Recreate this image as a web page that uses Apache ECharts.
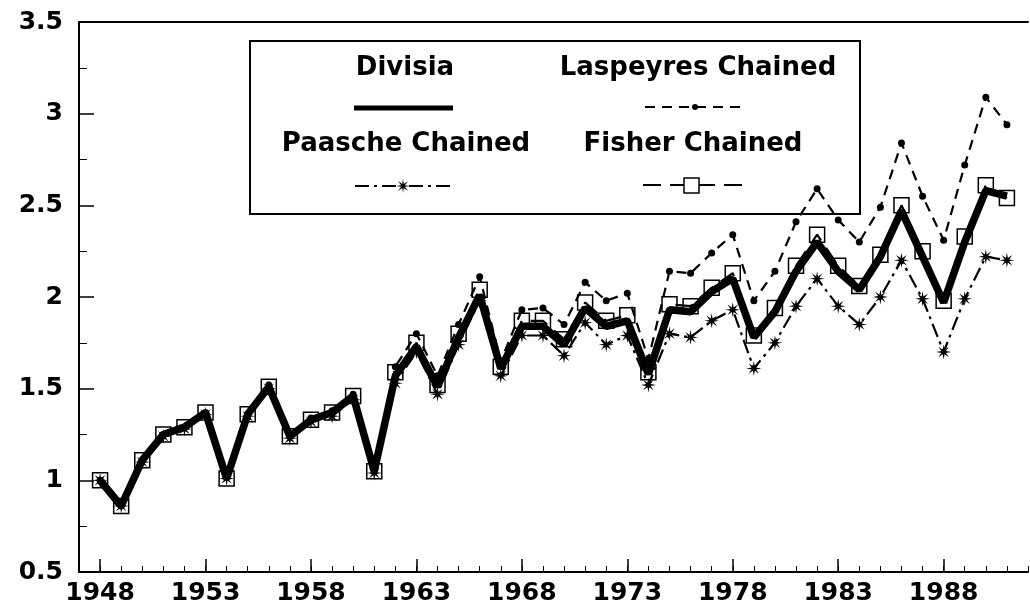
<!DOCTYPE html>
<html>
<head>
<meta charset="utf-8">
<script src="https://cdn.jsdelivr.net/npm/echarts@6/dist/echarts.min.js"></script>
<style>
html,body{margin:0;padding:0;background:#fff;}
#chart{width:1030px;height:609px;}
</style>
</head>
<body>
<div id="chart"></div>
<script>
// ---- data ----
const years = [1948,1949,1950,1951,1952,1953,1954,1955,1956,1957,1958,1959,1960,1961,1962,1963,1964,1965,1966,1967,1968,1969,1970,1971,1972,1973,1974,1975,1976,1977,1978,1979,1980,1981,1982,1983,1984,1985,1986,1987,1988,1989,1990,1991];
const divisia = [1.00,0.86,1.11,1.25,1.29,1.37,1.01,1.36,1.51,1.24,1.33,1.37,1.46,1.05,1.57,1.73,1.51,1.78,2.01,1.61,1.84,1.84,1.74,1.94,1.84,1.87,1.58,1.93,1.92,2.03,2.10,1.78,1.92,2.14,2.30,2.14,2.04,2.22,2.47,2.22,1.97,2.30,2.58,2.55];
const laspeyres = [1.00,0.86,1.11,1.25,1.29,1.37,1.02,1.36,1.52,1.25,1.34,1.38,1.47,1.07,1.62,1.80,1.57,1.85,2.11,1.65,1.93,1.94,1.85,2.08,1.98,2.02,1.66,2.14,2.13,2.24,2.34,1.98,2.14,2.41,2.59,2.42,2.30,2.49,2.84,2.55,2.31,2.72,3.09,2.94];
const paasche = [1.00,0.86,1.10,1.24,1.28,1.36,1.01,1.35,1.50,1.23,1.32,1.35,1.44,1.04,1.53,1.70,1.47,1.74,1.98,1.57,1.79,1.79,1.68,1.86,1.74,1.79,1.52,1.80,1.78,1.87,1.93,1.61,1.75,1.95,2.10,1.95,1.85,2.00,2.20,1.99,1.70,1.99,2.22,2.20];
const fisher = [1.00,0.86,1.11,1.25,1.29,1.37,1.01,1.36,1.51,1.24,1.33,1.37,1.46,1.05,1.59,1.75,1.52,1.80,2.04,1.62,1.87,1.87,1.77,1.97,1.87,1.90,1.59,1.96,1.95,2.05,2.13,1.79,1.94,2.17,2.34,2.17,2.06,2.23,2.50,2.25,1.98,2.33,2.61,2.54];
const xTickYears = [1948,1953,1958,1963,1968,1973,1978,1983,1988];
const yTicks = [0.5,1,1.5,2,2.5,3,3.5];
const seriesNames = ['Divisia','Laspeyres Chained','Paasche Chained','Fisher Chained'];

// ---- chart ----
const FONT = '"DejaVu Sans", sans-serif';
function starPoints(n, rIn, cx, cy, R){
  const pts = [];
  for (let k = 0; k < 2*n; k++){
    const a = k*Math.PI/n - Math.PI/2;
    const r = (k%2===0) ? 1 : rIn;
    pts.push([cx + Math.cos(a)*r*R, cy + Math.sin(a)*r*R]);
  }
  return pts;
}
const asterisk = 'path://' + starPoints(8, 0.33, 50, 50, 50).map((p,i)=>(i?'L':'M')+p[0].toFixed(2)+' '+p[1].toFixed(2)).join(' ') + ' Z';
const pairs = arr => years.map((y,i)=>[y, arr[i]]);

const chart = echarts.init(document.getElementById('chart'), null, {renderer:'canvas'});
const axisFont = {fontFamily: FONT, fontWeight:'bold', fontSize:25, color:'#000'};
const legendFont = {fontFamily: FONT, fontWeight:'bold', fontSize:26, fill:'#000'};

chart.setOption({
  animation:false,
  backgroundColor:'#fff',
  grid:{left:79, right:2, top:22, bottom:37, containLabel:false},
  xAxis:[
    {type:'value', min:1947, max:1992, interval:1, position:'bottom',
     axisLine:{show:true, lineStyle:{color:'#000', width:2}},
     axisTick:{show:true, inside:true, length:6, lineStyle:{color:'#000', width:1}},
     axisLabel:{show:false}, splitLine:{show:false}},
    {type:'value', min:1947, max:1992, position:'bottom',
     axisLine:{show:false},
     axisTick:{show:true, inside:true, length:13, customValues:xTickYears, lineStyle:{color:'#000', width:1.5}},
     axisLabel:Object.assign({show:true, margin:9, customValues:xTickYears, formatter:v=>String(v)}, axisFont),
     splitLine:{show:false}},
    {type:'value', min:1947, max:1992, position:'top',
     axisLine:{show:true, lineStyle:{color:'#000', width:2}},
     axisTick:{show:false}, axisLabel:{show:false}, splitLine:{show:false}}
  ],
  yAxis:{type:'value', min:0.5, max:3.5, interval:0.5,
     axisLine:{show:true, lineStyle:{color:'#000', width:2}},
     axisTick:{show:true, inside:true, length:15, lineStyle:{color:'#000', width:1.5}},
     minorTick:{show:true, splitNumber:2, length:8, lineStyle:{color:'#000', width:1}},
     axisLabel:Object.assign({margin:16, customValues:yTicks, formatter:v=>String(v)}, axisFont),
     splitLine:{show:false}},
  series:[
    {name:seriesNames[1], type:'line', data:pairs(laspeyres), xAxisIndex:0,
     lineStyle:{color:'#000', width:2.2, type:[10,7]},
     symbol:'circle', symbolSize:7, itemStyle:{color:'#000'}, z:2},
    {name:seriesNames[2], type:'line', data:pairs(paasche), xAxisIndex:0,
     lineStyle:{color:'#000', width:2.2, type:[14,5,3,5]},
     symbol:asterisk, symbolSize:15, itemStyle:{color:'#000'}, z:2},
    {name:seriesNames[3], type:'line', data:pairs(fisher), xAxisIndex:0,
     lineStyle:{color:'#000', width:2.2, type:[18,9]},
     symbol:'rect', symbolSize:15, itemStyle:{color:'rgba(0,0,0,0)', borderColor:'#000', borderWidth:1.5}, z:3},
    {name:seriesNames[0], type:'line', data:pairs(divisia), xAxisIndex:0,
     lineStyle:{color:'#000', width:7.5}, showSymbol:false, symbol:'none', z:4}
  ],
  graphic:{elements:[
    {type:'rect', shape:{x:250, y:41, width:610, height:173}, style:{fill:'none', stroke:'#000', lineWidth:2}, z:1},
    {type:'text', x:405, y:68, style:Object.assign({text:seriesNames[0], align:'center', verticalAlign:'middle'}, legendFont), z:101},
    {type:'text', x:698, y:68, style:Object.assign({text:seriesNames[1], align:'center', verticalAlign:'middle'}, legendFont), z:101},
    {type:'text', x:406, y:144, style:Object.assign({text:seriesNames[2], align:'center', verticalAlign:'middle'}, legendFont), z:101},
    {type:'text', x:693, y:144, style:Object.assign({text:seriesNames[3], align:'center', verticalAlign:'middle'}, legendFont), z:101},
    {type:'line', shape:{x1:354, y1:108, x2:453, y2:108}, style:{stroke:'#000', lineWidth:5}, z:101},
    {type:'line', shape:{x1:645, y1:107, x2:742, y2:107}, style:{stroke:'#000', lineWidth:2, lineDash:[10,7]}, z:101},
    {type:'circle', shape:{cx:695, cy:107, r:3}, style:{fill:'#000'}, z:102},
    {type:'line', shape:{x1:355, y1:186, x2:452, y2:186}, style:{stroke:'#000', lineWidth:2, lineDash:[14,5,3,5]}, z:101},
    {type:'polygon', shape:{points:starPoints(8, 0.3, 403, 186, 7)}, style:{fill:'#000'}, z:102},
    {type:'line', shape:{x1:643, y1:185, x2:742, y2:185}, style:{stroke:'#000', lineWidth:2, lineDash:[18,9]}, z:101},
    {type:'rect', shape:{x:684, y:178, width:15, height:15}, style:{fill:'#fff', stroke:'#000', lineWidth:1.5}, z:102}
  ]}
});
</script>
</body>
</html>
